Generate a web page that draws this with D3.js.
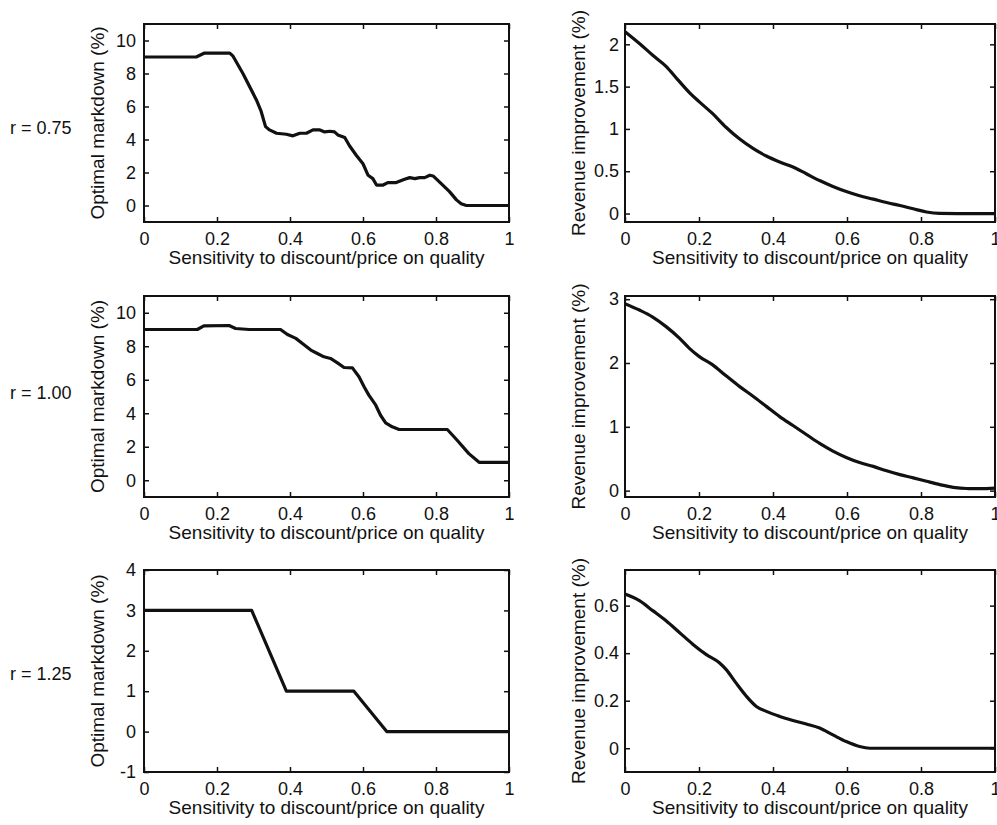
<!DOCTYPE html>
<html>
<head>
<meta charset="utf-8">
<script src="https://cdn.jsdelivr.net/npm/d3@7"></script>
<style>
  html, body { margin: 0; padding: 0; background: #fff; }
  svg { display: block; font-family: "Liberation Sans", Arial, Helvetica, sans-serif; }
</style>
</head>
<body>
<svg id="chart" width="997" height="825"></svg>
<script>
// Row captions (price-sensitivity ratio r)
const rLabels = ["r = 0.75", "r = 1.00", "r = 1.25"];

// r = 0.75 — optimal markdown (%)
const md075X = [0, 0.143, 0.166, 0.235, 0.244, 0.271, 0.308, 0.321, 0.333, 0.344, 0.363, 0.39, 0.408, 0.427, 0.445, 0.463, 0.482, 0.495, 0.509, 0.522, 0.531, 0.55, 0.563, 0.582, 0.6, 0.614, 0.627, 0.637, 0.655, 0.668, 0.691, 0.714, 0.728, 0.742, 0.755, 0.769, 0.783, 0.792, 0.82, 0.837, 0.856, 0.869, 0.883, 1];
const md075Y = [9.0, 9.0, 9.24, 9.24, 9.05, 8.0, 6.4, 5.7, 4.78, 4.58, 4.38, 4.32, 4.22, 4.38, 4.38, 4.58, 4.58, 4.46, 4.5, 4.46, 4.28, 4.12, 3.62, 3.03, 2.53, 1.83, 1.63, 1.24, 1.24, 1.39, 1.39, 1.59, 1.69, 1.63, 1.69, 1.69, 1.83, 1.79, 1.2, 0.84, 0.34, 0.1, 0, 0];

// r = 0.75 — revenue improvement (%)
const rev075X = [0, 0.039, 0.075, 0.111, 0.143, 0.174, 0.201, 0.237, 0.273, 0.31, 0.346, 0.382, 0.418, 0.454, 0.49, 0.526, 0.562, 0.598, 0.634, 0.671, 0.707, 0.743, 0.779, 0.815, 0.851, 0.9, 1];
const rev075Y = [2.15, 2.01, 1.87, 1.74, 1.58, 1.43, 1.32, 1.18, 1.02, 0.88, 0.77, 0.68, 0.61, 0.55, 0.47, 0.39, 0.32, 0.26, 0.21, 0.17, 0.13, 0.095, 0.056, 0.018, 0.002, 0, 0];

// r = 1.00 — optimal markdown (%)
const md100X = [0, 0.146, 0.164, 0.233, 0.251, 0.288, 0.374, 0.393, 0.416, 0.434, 0.457, 0.475, 0.493, 0.511, 0.53, 0.548, 0.571, 0.589, 0.603, 0.616, 0.635, 0.648, 0.662, 0.68, 0.699, 0.831, 0.858, 0.89, 0.918, 1];
const md100Y = [9.0, 9.0, 9.22, 9.24, 9.06, 9.0, 9.0, 8.7, 8.47, 8.17, 7.77, 7.57, 7.37, 7.27, 7.01, 6.73, 6.71, 6.18, 5.58, 5.08, 4.48, 3.88, 3.43, 3.19, 3.03, 3.03, 2.39, 1.59, 1.07, 1.07];

// r = 1.00 — revenue improvement (%)
const rev100X = [0, 0.039, 0.075, 0.111, 0.147, 0.174, 0.201, 0.237, 0.273, 0.31, 0.346, 0.382, 0.418, 0.454, 0.49, 0.526, 0.562, 0.598, 0.634, 0.671, 0.707, 0.743, 0.779, 0.815, 0.851, 0.887, 0.923, 0.96, 1];
const rev100Y = [2.93, 2.83, 2.72, 2.57, 2.39, 2.23, 2.1, 1.97, 1.8, 1.63, 1.48, 1.32, 1.16, 1.02, 0.88, 0.74, 0.62, 0.52, 0.44, 0.38, 0.31, 0.25, 0.2, 0.146, 0.094, 0.052, 0.033, 0.031, 0.04];

// r = 1.25 — optimal markdown (%)
const md125X = [0, 0.295, 0.39, 0.575, 0.665, 1];
const md125Y = [3, 3, 1, 1, 0, 0];

// r = 1.25 — revenue improvement (%)
const rev125X = [0, 0.039, 0.075, 0.111, 0.147, 0.183, 0.219, 0.255, 0.273, 0.3, 0.328, 0.355, 0.382, 0.418, 0.454, 0.49, 0.526, 0.562, 0.598, 0.634, 0.662, 1];
const rev125Y = [0.649, 0.621, 0.579, 0.536, 0.487, 0.438, 0.395, 0.36, 0.332, 0.275, 0.219, 0.176, 0.155, 0.134, 0.117, 0.102, 0.085, 0.056, 0.028, 0.007, 0, 0];

// Axis ticks
const xTicks = [0, 0.2, 0.4, 0.6, 0.8, 1];
const mdTicksA = [0, 2, 4, 6, 8, 10];
const mdTicksC = [-1, 0, 1, 2, 3, 4];
const revTicks075 = [0, 0.5, 1, 1.5, 2];
const revTicks100 = [0, 1, 2, 3];
const revTicks125 = [0, 0.2, 0.4, 0.6];

const xLabel = "Sensitivity to discount/price on quality";
const mdLabel = "Optimal markdown (%)";
const revLabel = "Revenue improvement (%)";

const zip = (xs, ys) => xs.map((x, i) => ({ x, y: ys[i] }));

const cols = [{ x0: 144, x1: 509, pad: 8 }, { x0: 625, x1: 995, pad: 6 }];
const rows = [{ y0: 24, y1: 222, label: 134 }, { y0: 296, y1: 497, label: 399 }, { y0: 570, y1: 772, label: 680 }];

const panels = [
  { row: 0, col: 0, data: zip(md075X, md075Y), dom: [-1, 11], ticks: mdTicksA, ylab: mdLabel, smooth: false },
  { row: 0, col: 1, data: zip(rev075X, rev075Y), dom: [-0.1, 2.24], ticks: revTicks075, ylab: revLabel, smooth: true },
  { row: 1, col: 0, data: zip(md100X, md100Y), dom: [-1, 11], ticks: mdTicksA, ylab: mdLabel, smooth: false },
  { row: 1, col: 1, data: zip(rev100X, rev100Y), dom: [-0.1, 3.05], ticks: revTicks100, ylab: revLabel, smooth: true },
  { row: 2, col: 0, data: zip(md125X, md125Y), dom: [-1, 4], ticks: mdTicksC, ylab: mdLabel, smooth: false },
  { row: 2, col: 1, data: zip(rev125X, rev125Y), dom: [-0.1, 0.75], ticks: revTicks125, ylab: revLabel, smooth: true }
];

const svg = d3.select("#chart");
const ink = "#111";

// Row captions
rows.forEach((r, i) => {
  svg.append("text")
    .attr("x", 10).attr("y", r.label)
    .attr("font-size", 18).attr("fill", ink)
    .text(rLabels[i]);
});

panels.forEach((p, i) => {
  const c = cols[p.col], r = rows[p.row];
  const w = c.x1 - c.x0, h = r.y1 - r.y0;
  const x = d3.scaleLinear().domain([0, 1]).range([0, w]);
  const y = d3.scaleLinear().domain(p.dom).range([h, 0]);
  const fmt = d => String(d);

  const g = svg.append("g").attr("transform", `translate(${c.x0},${r.y0})`);

  g.append("clipPath").attr("id", "clip" + i)
    .append("rect").attr("width", w).attr("height", h);

  // Curve
  const line = d3.line().x(d => x(d.x)).y(d => y(d.y))
    .curve(p.smooth ? d3.curveMonotoneX : d3.curveLinear);
  g.append("path").datum(p.data)
    .attr("clip-path", `url(#clip${i})`)
    .attr("d", line)
    .attr("fill", "none").attr("stroke", ink)
    .attr("stroke-width", 3.2).attr("stroke-linejoin", "round");

  // Axes with inward ticks on all four sides
  const style = sel => {
    sel.select(".domain").remove();
    sel.selectAll("line").attr("stroke", ink).attr("stroke-width", 1.5);
    sel.selectAll("text").attr("fill", ink).attr("font-size", 18)
      .attr("font-family", "Liberation Sans, Arial, Helvetica, sans-serif");
  };
  g.append("g").attr("transform", `translate(0,${h})`)
    .call(d3.axisBottom(x).tickValues(xTicks).tickFormat(fmt).tickSize(-5).tickPadding(10))
    .call(style);
  g.append("g")
    .call(d3.axisTop(x).tickValues(xTicks).tickFormat("").tickSize(-5))
    .call(style);
  g.append("g")
    .call(d3.axisLeft(y).tickValues(p.ticks).tickFormat(fmt).tickSize(-5).tickPadding(c.pad))
    .call(style);
  g.append("g").attr("transform", `translate(${w},0)`)
    .call(d3.axisRight(y).tickValues(p.ticks).tickFormat("").tickSize(-5))
    .call(style);

  // Frame
  g.append("rect").attr("width", w).attr("height", h)
    .attr("fill", "none").attr("stroke", ink).attr("stroke-width", 2);

  // Axis titles
  g.append("text")
    .attr("x", w / 2).attr("y", h + 42)
    .attr("text-anchor", "middle").attr("font-size", 19).attr("fill", ink)
    .text(xLabel);
  g.append("text")
    .attr("transform", `translate(${p.col === 0 ? -40 : -40},${h / 2}) rotate(-90)`)
    .attr("text-anchor", "middle").attr("font-size", 19).attr("fill", ink)
    .text(p.ylab);
});
</script>
</body>
</html>
